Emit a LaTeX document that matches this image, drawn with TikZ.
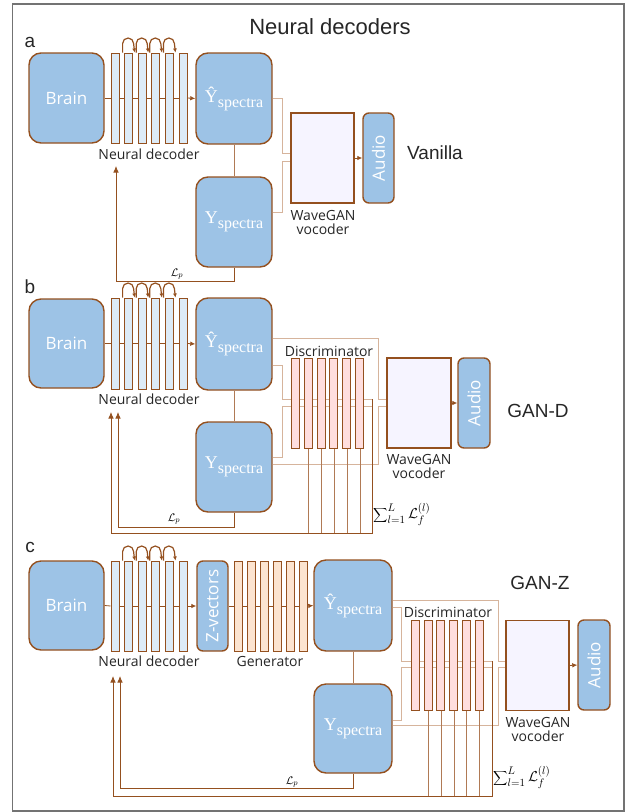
\documentclass[tikz,border=0pt]{standalone}
\usepackage{fontspec}
\setmainfont{Open Sans}
\newfontfamily\arialf{Liberation Sans}
\newfontfamily\serf{Liberation Serif}
\usetikzlibrary{arrows.meta,calc}

\definecolor{brn}{HTML}{94501F}
\definecolor{wire}{HTML}{B07A55}
\definecolor{wirelt}{HTML}{D6B49C}
\definecolor{skyb}{HTML}{9DC3E6}
\definecolor{decf}{HTML}{DDEBF7}
\definecolor{genf}{HTML}{FCE4D0}
\definecolor{disf}{HTML}{FFDEDE}
\definecolor{vocf}{HTML}{F6F4FF}

\newcommand{\spec}[1]{{\serf\fontsize{18}{18}\selectfont #1}\raisebox{-5pt}{\serf\fontsize{16}{16}\selectfont spectra}}

\tikzset{
  blk/.style={draw=brn, fill=skyb, line width=1.4pt, rounded corners=12pt, text=white,
    inner sep=0pt, font=\fontsize{17}{17}\selectfont},
  narrow/.style={blk, rounded corners=6pt, rotate=90, minimum width=90pt, minimum height=31pt},
  decbar/.style={draw=brn, fill=decf, line width=1pt, minimum width=8pt, minimum height=90pt, inner sep=0pt},
  genbar/.style={decbar, fill=genf},
  disbar/.style={decbar, fill=disf},
  vocbox/.style={draw=brn, fill=vocf, line width=1.3pt, minimum width=63pt, minimum height=90pt, inner sep=0pt},
  flow/.style={draw=brn, line width=0.8pt},
  tip/.style={-{Latex[length=5pt,width=4.5pt]}},
  bigtip/.style={-{Latex[length=6.5pt,width=5.5pt]}, brn},
  feed/.style={draw=wirelt, line width=0.8pt},
  fb/.style={draw=wire, line width=0.8pt},
  lbl/.style={font=\fontsize{14}{14}\selectfont, text=black!85, inner sep=0pt},
  tag/.style={font=\arialf\fontsize{19}{19}\selectfont, text=black!85, inner sep=0pt},
  loopy/.style={draw=brn, line width=1.2pt, -{Latex[length=4pt,width=4pt]}},
  lossp/.style={font=\fontsize{11}{11}\selectfont, inner sep=0pt},
  losssum/.style={font=\fontsize{15}{15}\selectfont, inner sep=0pt, anchor=west},
}

\begin{document}
\begin{tikzpicture}[x=1pt, y=-1pt]
  \useasboundingbox (0,0) rectangle (628,812);
  \draw[black!55, line width=1.3pt] (12.5,4) rectangle (624,811);
  \node[font=\arialf\fontsize{22}{22}\selectfont, text=black!85] (title) at (330,27) {Neural decoders};

  % ---- a: Vanilla ----
  \node[tag] at (30,42) {a};
  \node[blk, minimum width=75pt, minimum height=90pt] (brA) at (66.5,98) {Brain};
  \foreach \i in {1,...,6}
    \node[decbar] (dA\i) at ({115+13.6*(\i-1)},98) {};
  \node[blk, minimum width=76pt, minimum height=91pt] (yhA) at (234,98.5) {\spec{Ŷ}};
  \node[blk, minimum width=76pt, minimum height=90pt] (yA) at (234,222) {\spec{Y}};
  \node[vocbox] (vcA) at (322.5,158) {};
  \node[narrow] (auA) at (378.5,158) {Audio};
  \node[lbl] (ndA) at (149,154) {Neural decoder};
  \node[lbl, align=center] (wgA) at (323,222) {WaveGAN\\vocoder};
  \node[tag] at (435,153) {Vanilla};
  \draw[flow] (brA.east) -- (dA1.west);
  \foreach \i [count=\j from 2] in {1,...,5}
    \draw[flow] (dA\i.east) -- (dA\j.west);
  \draw[flow, tip] (dA6.east) -- (yhA.west);
  \foreach \i in {2,...,5}
    \draw[loopy] ([xshift=-1.5pt]dA\i.north west) -- ++(0,-9)
      arc[start angle=180, end angle=0, radius=5.5pt] -- ([xshift=1.5pt]dA\i.north east);
  \draw[fb] (yhA.south) -- (yA.north);
  \draw[feed] (yhA.east) -- ++(10,0) |- ([yshift=5pt]vcA.west);
  \draw[feed] ([yshift=10pt]yA.east) -- ++(10,0) |- ([yshift=-3pt]vcA.west);
  \draw[flow, tip] (vcA.east) -- (auA.north);
  \coordinate (fA) at (116,166);
  \draw[fb, bigtip] (yA.south) -- ++(0,14) -| (fA);
  \node[lossp] at (177,274) {$\mathcal{L}_p$};

  % ---- b: GAN-D ----
  \node[tag] at (30,287) {b};
  \node[blk, minimum width=75pt, minimum height=89pt] (brB) at (66.5,343.5) {Brain};
  \foreach \i in {1,...,6}
    \node[decbar, minimum height=91pt] (dB\i) at ({115+13.6*(\i-1)},343.5) {};
  \node[blk, minimum width=76pt, minimum height=92pt] (yhB) at (234,344) {\spec{Ŷ}};
  \node[blk, minimum width=76pt, minimum height=90pt] (yB) at (234,467) {\spec{Y}};
  \node[vocbox, minimum width=64pt] (vcB) at (419,403) {};
  \node[narrow, minimum height=32pt] (auB) at (474,403) {Audio};
  \node[lbl] (ndB) at (149,399) {Neural decoder};
  \node[lbl] (dsB) at (329,351) {Discriminator};
  \node[lbl, align=center] (wgB) at (419,466) {WaveGAN\\vocoder};
  \node[tag] at (538,411) {GAN-D};
  \draw[flow] (brB.east) -- (dB1.west);
  \foreach \i [count=\j from 2] in {1,...,5}
    \draw[flow] (dB\i.east) -- (dB\j.west);
  \draw[flow, tip] (dB6.east) -- (yhB.west);
  \foreach \i in {2,...,5}
    \draw[loopy] ([xshift=-1.5pt]dB\i.north west) -- ++(0,-9)
      arc[start angle=180, end angle=0, radius=5.5pt] -- ([xshift=1.5pt]dB\i.north east);
  \draw[fb] (yhB.south) -- (yB.north);
  \coordinate (jB) at (372,533);
  \coordinate (fB1) at (111,412);
  \coordinate (fB2) at (118,412);
  \draw[feed] ([yshift=6pt]yhB.east) -- ++(106,0) |- ([yshift=4pt]vcB.west);
  \draw[feed] ([yshift=3pt]yB.east) -- ++(106,0) |- ([yshift=-3pt]vcB.west);
  \draw[feed] ([yshift=-21pt]yhB.east) -- ++(10,0) |- (jB |- 0,399);
  \draw[feed] ([yshift=10pt]yB.east) -- ++(10,0) |- (jB |- 0,406);
  \foreach \i in {1,...,6}
    \node[disbar] (sB\i) at ({295.5+12.8*(\i-1)},403) {};
  \foreach \i in {2,...,6}
    \draw[fb] ([xshift=0.5pt]sB\i.south) -- ([xshift=0.5pt]sB\i.south |- jB);
  \draw[fb, bigtip] (jB |- 0,399) -- (jB) -| (fB1);
  \draw[fb, bigtip] (yB.south) -- ++(0,15) -| (fB2);
  \draw[flow, tip] (vcB.east) -- (auB.north);
  \node[lossp] at (174,519) {$\mathcal{L}_p$};
  \node[losssum] at (373,514) {$\displaystyle\sum\nolimits_{l=1}^{L}\mathcal{L}_f^{(l)}$};

  % ---- c: GAN-Z ----
  \node[tag] at (30,547) {c};
  \node[blk, minimum width=75pt, minimum height=89pt] (brC) at (66.5,605.5) {Brain};
  \foreach \i in {1,...,6}
    \node[decbar] (dC\i) at ({115+13.6*(\i-1)},606) {};
  \node[narrow] (zC) at (212.5,606) {Z-vectors};
  \foreach \i in {1,...,6}
    \node[genbar] (gC\i) at ({238+13*(\i-1)},606) {};
  \node[blk, minimum width=78pt, minimum height=91pt] (yhC) at (353,605.5) {\spec{Ŷ}};
  \node[blk, minimum width=78pt, minimum height=89pt] (yC) at (353,728.5) {\spec{Y}};
  \node[vocbox] (vcC) at (537.5,665.5) {};
  \node[narrow, minimum height=32pt] (auC) at (594,665) {Audio};
  \node[lbl] (ndC) at (149,661) {Neural decoder};
  \node[lbl] (gnC) at (270,661) {Generator};
  \node[lbl] (dsC) at (448,612) {Discriminator};
  \node[lbl, align=center] (wgC) at (538,729) {WaveGAN\\vocoder};
  \node[tag] at (540,583) {GAN-Z};
  \draw[flow] (brC.east) -- (dC1.west);
  \foreach \i [count=\j from 2] in {1,...,5}
    \draw[flow] (dC\i.east) -- (dC\j.west);
  \draw[flow, tip] (dC6.east) -- (zC.north);
  \draw[flow] (zC.south) -- (gC1.west);
  \foreach \i [count=\j from 2] in {1,...,5}
    \draw[flow] (gC\i.east) -- (gC\j.west);
  \draw[flow, tip] (gC6.east) -- (yhC.west);
  \foreach \i in {2,...,5}
    \draw[loopy] ([xshift=-1.5pt]dC\i.north west) -- ++(0,-9)
      arc[start angle=180, end angle=0, radius=5.5pt] -- ([xshift=1.5pt]dC\i.north east);
  \draw[fb] (yhC.south) -- (yC.north);
  \coordinate (jC) at (492,796);
  \coordinate (fC1) at (113,676);
  \coordinate (fC2) at (120,676);
  \draw[feed] ([yshift=5.5pt]yhC.east) -- ++(106,0) |- ([yshift=4.5pt]vcC.west);
  \draw[feed] ([yshift=3.5pt]yC.east) -- ++(106,0) |- ([yshift=-1.5pt]vcC.west);
  \draw[feed] ([yshift=-1.5pt]yhC.east) -- ++(9,0) |- (jC |- 0,661);
  \draw[feed] ([yshift=8.5pt]yC.east) -- ++(9,0) |- (jC |- 0,667);
  \foreach \i in {1,...,6}
    \node[disbar] (sC\i) at ({415.5+12.7*(\i-1)},665) {};
  \foreach \i in {2,...,6}
    \draw[fb] ([xshift=0.5pt]sC\i.south) -- ([xshift=0.5pt]sC\i.south |- jC);
  \draw[fb, bigtip] (jC |- 0,661) -- (jC) -| (fC1);
  \draw[fb, bigtip] (yC.south) -- ++(0,15) -| (fC2);
  \draw[flow, tip] (vcC.east) -- (auC.north);
  \node[lossp] at (292,782) {$\mathcal{L}_p$};
  \node[losssum] at (493,777) {$\displaystyle\sum\nolimits_{l=1}^{L}\mathcal{L}_f^{(l)}$};
\end{tikzpicture}
\end{document}
